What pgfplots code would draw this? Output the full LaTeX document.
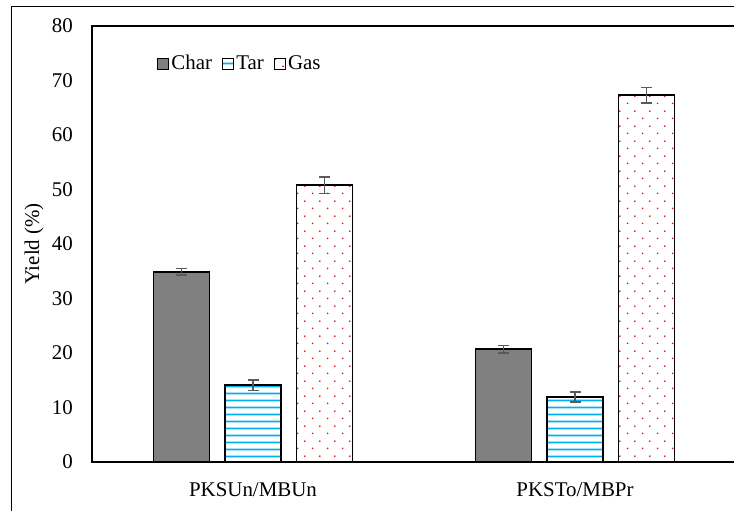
\documentclass[border=0pt]{standalone}
\usepackage{fontspec}
\setmainfont{Liberation Serif}
\usepackage{pgfplots}
\pgfplotsset{compat=1.18}
\usetikzlibrary{patterns}

\definecolor{chargray}{RGB}{128,128,128}
\definecolor{tarcyan}{RGB}{0,176,240}
\definecolor{gasred}{RGB}{215,20,20}
\definecolor{errgray}{RGB}{89,89,89}

% cyan horizontal stripes for Tar
\pgfdeclarepatterninherentlycolored{tarlines}{\pgfpointorigin}{\pgfqpoint{10bp}{7.4bp}}{\pgfqpoint{10bp}{7.4bp}}{%
  \pgfsetstrokecolor{tarcyan}\pgfsetlinewidth{1.8bp}%
  \pgfpathmoveto{\pgfqpoint{-1bp}{3.7bp}}\pgfpathlineto{\pgfqpoint{11bp}{3.7bp}}\pgfusepath{stroke}}
% staggered red dots for Gas
\pgfdeclarepatterninherentlycolored{gasdots}{\pgfpointorigin}{\pgfqpoint{14.7bp}{14.7bp}}{\pgfqpoint{14.7bp}{14.7bp}}{%
  \pgfsetfillcolor{gasred}%
  \pgfpathcircle{\pgfqpoint{3.7bp}{3.7bp}}{1bp}%
  \pgfpathcircle{\pgfqpoint{11bp}{11bp}}{1bp}\pgfusepath{fill}}

\begin{document}
\fontsize{21}{25}\selectfont
\begin{tikzpicture}
\useasboundingbox (0,0) rectangle (734bp,511bp);
\draw[line width=1bp] (11bp,-20bp) rectangle (780bp,504bp);
\begin{axis}[
  at={(92bp,49bp)}, anchor=south west,
  scale only axis, width=644bp, height=436bp,
  xmin=-0.5, xmax=1.5, ymin=0, ymax=80,
  xtick={0,1}, xticklabels={PKSUn/MBUn, PKSTo/MBPr},
  ytick distance=10,
  tick style={draw=none},
  /pgf/number format/assume math mode=true,
  yticklabel style={inner sep=0pt, xshift=-19bp},
  xticklabel style={inner sep=0pt, yshift=-16bp},
  ylabel={Yield (\%)},
  ylabel style={at={(axis description cs:-0.090,0.5)}, anchor=center},
  axis line style={line width=1.3bp},
  ybar, bar width=0.174,
  legend columns=3,
  legend style={draw=none, fill=none, at={(0.101,0.913)}, anchor=west,
    inner sep=0pt, /tikz/every even column/.append style={column sep=8bp}},
  legend image code/.code={\draw[#1, line width=1.2bp] (0bp,-5.5bp) rectangle (11bp,5.5bp);},
  error bars/y dir=both, error bars/y explicit,
  error bars/error bar style={errgray, line width=1.6bp},
  error bars/error mark options={errgray, rotate=90, mark size=5.5bp, line width=1.6bp},
]
\addplot[bar shift=-0.2224, fill=chargray, draw=black, line width=1.5bp]
  coordinates {(0,34.9) +- (0,0.6) (1,20.7) +- (0,0.7)};
\addplot[bar shift=0, pattern=tarlines, draw=black, line width=1.5bp]
  coordinates {(0,14.1) +- (0,1.0) (1,11.9) +- (0,0.9)};
\addplot[bar shift=0.2224, pattern=gasdots, draw=black, line width=1.5bp]
  coordinates {(0,50.8) +- (0,1.5) (1,67.3) +- (0,1.4)};
\legend{Char, Tar, Gas}
\end{axis}
\end{tikzpicture}
\end{document}
